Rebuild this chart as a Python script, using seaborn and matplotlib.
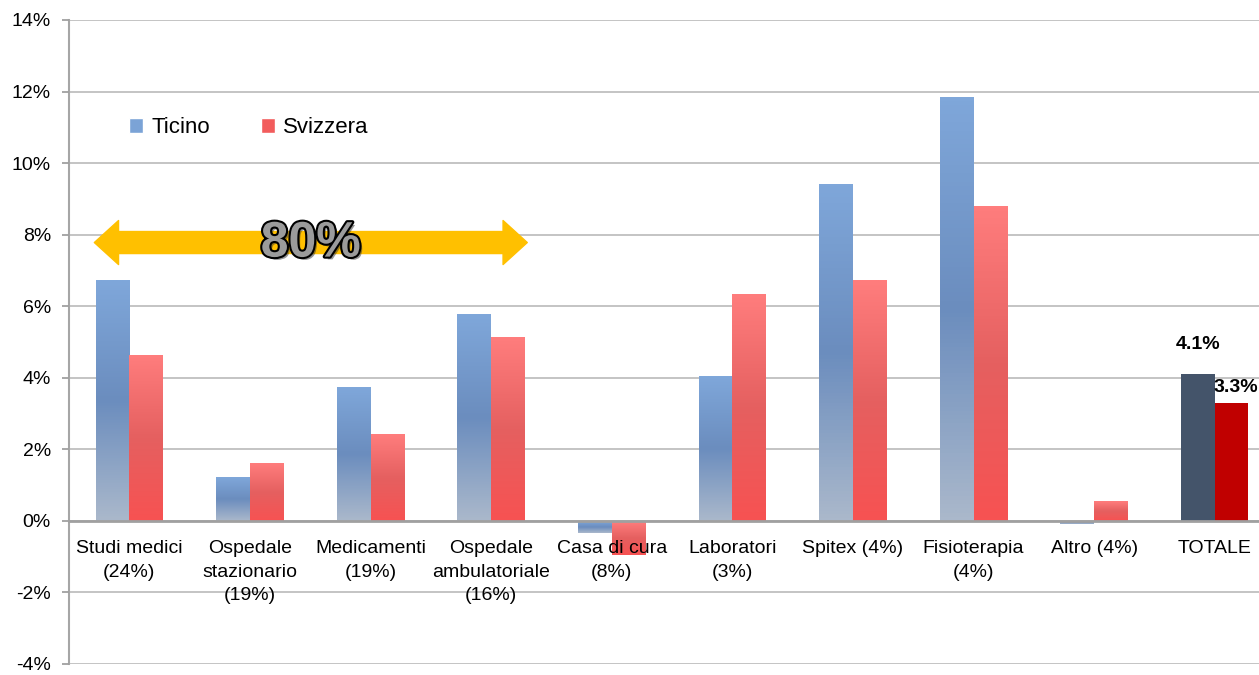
import pandas as pd
import numpy as np
import matplotlib
matplotlib.use("Agg")
import matplotlib.pyplot as plt
import matplotlib.patheffects as pe
from matplotlib.colors import LinearSegmentedColormap
from matplotlib.patches import Patch
import seaborn as sns

categorie = ["Studi medici\n(24%)", "Ospedale\nstazionario\n(19%)", "Medicamenti\n(19%)",
             "Ospedale\nambulatoriale\n(16%)", "Casa di cura\n(8%)", "Laboratori\n(3%)",
             "Spitex (4%)", "Fisioterapia\n(4%)", "Altro (4%)", "TOTALE"]
ticino = [6.72, 1.22, 3.73, 5.77, -0.33, 4.04, 9.42, 11.85, -0.08, 4.1]
svizzera = [4.65, 1.61, 2.42, 5.13, -0.94, 6.35, 6.72, 8.81, 0.55, 3.3]
serie = ["Ticino", "Svizzera"]
etichette_totale = ["4.1%", "3.3%"]
yticks = list(range(-4, 15, 2))

df = pd.DataFrame({
    "categoria": categorie * 2,
    "serie": ["Ticino"] * len(categorie) + ["Svizzera"] * len(categorie),
    "valore": ticino + svizzera,
})

sns.set_style("white")
plt.rcParams["font.family"] = ["Liberation Sans", "DejaVu Sans"]
plt.rcParams["text.color"] = "black"

fig = plt.figure(figsize=(12.59, 6.75), dpi=100)
ax = fig.add_axes([69 / 1259, 11 / 675, 1206 / 1259, 644 / 675])

sns.barplot(data=df, x="categoria", y="valore", hue="serie", hue_order=serie,
            palette=["#7BA3D6", "#FF6B6B"], width=0.56, legend=False, ax=ax,
            errorbar=None, zorder=2)

# gradients like the original excel bars
grad = {
    "Ticino": LinearSegmentedColormap.from_list("t", ["#AAB8CB", "#6B8DBE", "#7FA7DA"]),
    "Svizzera": LinearSegmentedColormap.from_list("s", ["#F75252", "#E56060", "#FF7D7D"]),
}
solid_tot = {"Ticino": "#44546A", "Svizzera": "#C00000"}
for nome, cont in zip(serie, ax.containers):
    for i, bar in enumerate(cont.patches):
        if i == len(categorie) - 1:
            bar.set_facecolor(solid_tot[nome])
            bar.set_edgecolor("none")
            continue
        x, y = bar.get_x(), bar.get_y()
        w, h = bar.get_width(), bar.get_height()
        y0, y1 = min(y, y + h), max(y, y + h)
        img = np.linspace(0, 1, 100).reshape(-1, 1)
        im = ax.imshow(img, extent=[x, x + w, y0, y1], origin="lower", aspect="auto",
                       cmap=grad[nome], zorder=2)
        im.set_clip_path(bar)
        bar.set_facecolor("none")
        bar.set_edgecolor("none")

ax.set_xlim(-0.5, len(categorie) - 0.5)
ax.set_ylim(-4, 14)
# grid below the bars, tick labels above them (as in the original)
for v in yticks:
    ax.axhline(v, color="#BFBFBF", lw=1.3, zorder=1)
ax.set_axisbelow(False)

sns.despine(ax=ax, top=True, right=True)
ax.spines["bottom"].set_position(("data", 0))
ax.spines["bottom"].set_color("#A0A0A0")
ax.spines["bottom"].set_linewidth(2)
ax.spines["left"].set_color("#A6A6A6")
ax.spines["left"].set_linewidth(1.5)

ax.set_yticks(yticks)
ax.set_yticklabels([f"{v}%" for v in yticks])
ax.set_xticks(np.arange(-0.5, len(categorie), 1))
ax.set_xticklabels([])
ax.set_xticks(range(len(categorie)), minor=True)
ax.set_xticklabels(categorie, minor=True)
ax.tick_params(axis="x", which="minor", length=0, pad=14, labelsize=14, labelcolor="black")
ax.tick_params(axis="x", which="major", direction="out", length=6.5, width=1.5, color="#A0A0A0")
ax.tick_params(axis="y", direction="out", length=5, width=1.3, color="#A0A0A0", pad=8,
               left=True, labelsize=14, labelcolor="black")
for lab in ax.get_xticklabels(minor=True):
    lab.set_linespacing(1.5)
ax.set_xlabel("")
ax.set_ylabel("")

# legend
handles = [Patch(facecolor="#7BA3D6", label="Ticino"), Patch(facecolor="#F25C5C", label="Svizzera")]
ax.legend(handles=handles, loc="center left", bbox_to_anchor=(0.0498, 0.833), ncol=2,
          frameon=False, fontsize=16, handlelength=0.64, handleheight=0.64,
          handletextpad=0.36, columnspacing=2.3, borderpad=0, borderaxespad=0)

# TOTALE labels
ultimo = len(categorie) - 1
ax.annotate(etichette_totale[0], (ultimo - 0.14, ticino[-1]), xytext=(0, 15),
            textcoords="offset points", ha="center", va="bottom", fontsize=14, fontweight="bold")
ax.annotate(etichette_totale[1], (ultimo + 0.14, svizzera[-1]), xytext=(3, 5),
            textcoords="offset points", ha="center", va="bottom", fontsize=14, fontweight="bold")

# yellow double arrow with 80%
for x_end in [-0.29, 3.30]:
    ax.annotate("", xy=(x_end, 7.78), xytext=(1.5, 7.78),
                arrowprops=dict(arrowstyle="simple,head_length=0.55,head_width=1,tail_width=0.5",
                                mutation_scale=31.7, color="#FFC000", shrinkA=0, shrinkB=0),
                zorder=5)
ax.text(1.505, 7.75, "80%", ha="center", va="center", fontsize=36, fontweight="bold",
        color="#9B9B9B", zorder=6,
        path_effects=[pe.SimplePatchShadow(offset=(2, -2), alpha=0.5),
                      pe.withStroke(linewidth=3, foreground="black")])

plt.savefig("out.png", dpi=100)
